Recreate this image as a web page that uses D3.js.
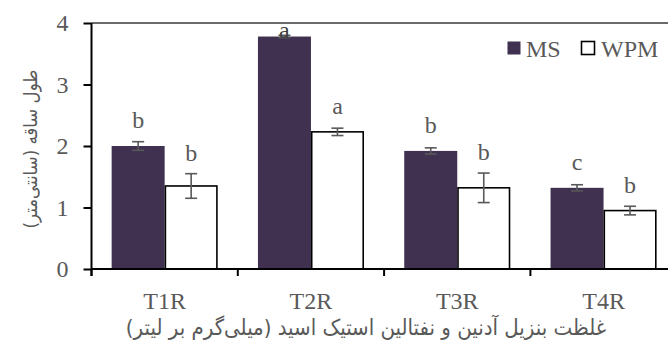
<!DOCTYPE html>
<html>
<head>
<meta charset="utf-8">
<script src="https://cdn.jsdelivr.net/npm/d3@7"></script>
<style>
  html, body { margin: 0; padding: 0; background: #fff; }
  svg { display: block; }
</style>
</head>
<body>
<svg id="chart" width="668" height="345"></svg>
<script>
const categories = ["T1R", "T2R", "T3R", "T4R"];
const series = ["MS", "WPM"];
const msValues = [2.00, 3.78, 1.92, 1.32];
const wpmValues = [1.35, 2.23, 1.32, 0.95];
const msErrors = [0.07, 0.02, 0.05, 0.05];
const wpmErrors = [0.20, 0.06, 0.24, 0.07];
const msLetters = ["b", "a", "b", "c"];
const wpmLetters = ["b", "a", "b", "b"];
const yTicks = [0, 1, 2, 3, 4];
const yTitle = "طول ساقه (سانتی‌متر)";
const xTitle = "غلظت بنزیل آدنین و نفتالین استیک اسید (میلی‌گرم بر لیتر)";

const seriesValues = { MS: msValues, WPM: wpmValues };
const seriesErrors = { MS: msErrors, WPM: wpmErrors };
const seriesLetters = { MS: msLetters, WPM: wpmLetters };
const fills = { MS: "#403151", WPM: "#ffffff" };
const strokes = { MS: "none", WPM: "#000000" };

const rows = [];
categories.forEach((c, i) => series.forEach(s => rows.push({
  cat: c, ser: s, v: seriesValues[s][i], e: seriesErrors[s][i], l: seriesLetters[s][i]
})));

const svg = d3.select("#chart");
const y = d3.scaleLinear().domain([0, 4]).range([269, 23]);
const x = d3.scaleBand().domain(categories).range([91.5, 676.7]).padding(0);
const xs = d3.scaleBand().domain(series).range([0, x.bandwidth()]).paddingInner(0).paddingOuter(0.38);

const serif = "'Liberation Serif', 'Times New Roman', serif";
const persian = "'DejaVu Sans Condensed', 'DejaVu Sans', sans-serif";
const textGray = "#595959";

// top border
svg.append("line")
  .attr("x1", x.range()[0]).attr("x2", 668)
  .attr("y1", y(4)).attr("y2", y(4))
  .attr("stroke", "#3a3a3a").attr("stroke-width", 1.6);

// bars
svg.append("g").selectAll("rect").data(rows).join("rect")
  .attr("x", d => x(d.cat) + xs(d.ser) + (d.ser === "WPM" ? 0.75 : 0))
  .attr("width", d => xs.bandwidth() - (d.ser === "WPM" ? 1.5 : 0))
  .attr("y", d => y(d.v))
  .attr("height", d => y(0) - y(d.v))
  .attr("fill", d => fills[d.ser])
  .attr("stroke", d => strokes[d.ser])
  .attr("stroke-width", 1.6);

// error bars
const eb = svg.append("g").attr("stroke", "#595959").attr("stroke-width", 1.6);
rows.forEach(d => {
  const cx = x(d.cat) + xs(d.ser) + xs.bandwidth() / 2;
  eb.append("line").attr("x1", cx).attr("x2", cx).attr("y1", y(d.v + d.e)).attr("y2", y(d.v - d.e));
  [d.v + d.e, d.v - d.e].forEach(val => {
    eb.append("line").attr("x1", cx - 6).attr("x2", cx + 6).attr("y1", y(val)).attr("y2", y(val));
  });
});

// letters
svg.append("g").selectAll("text").data(rows).join("text")
  .attr("x", d => x(d.cat) + xs(d.ser) + xs.bandwidth() / 2)
  .attr("y", d => Math.max(37.5, Math.min(y(d.v + d.e) - 13, y(d.v) - 18)))
  .attr("text-anchor", "middle")
  .attr("font-family", serif).attr("font-size", 24)
  .attr("fill", d => (d.ser === "MS" && d.v > 3.5) ? "#404040" : textGray)
  .text(d => d.l);

// y axis
const yAxis = svg.append("g").attr("transform", `translate(${x.range()[0]},0)`)
  .call(d3.axisLeft(y).tickValues(yTicks).tickSize(8).tickPadding(15).tickFormat(d3.format("d")));
yAxis.select(".domain").remove();
yAxis.selectAll(".tick line").attr("stroke", "#000").attr("stroke-width", 2);
yAxis.selectAll("text").attr("font-family", serif).attr("font-size", 24).attr("fill", textGray);
svg.append("line")
  .attr("x1", x.range()[0]).attr("x2", x.range()[0])
  .attr("y1", y(4)).attr("y2", y(0) + 7)
  .attr("stroke", "#000").attr("stroke-width", 2);

// x axis
const xAxis = svg.append("g").attr("transform", `translate(0,${y(0)})`)
  .call(d3.axisBottom(x).tickSize(0).tickPadding(23));
xAxis.select(".domain").remove();
xAxis.selectAll("text").attr("font-family", serif).attr("font-size", 24).attr("fill", textGray);
svg.append("line")
  .attr("x1", x.range()[0]).attr("x2", 668)
  .attr("y1", y(0)).attr("y2", y(0))
  .attr("stroke", "#000").attr("stroke-width", 2);
svg.append("g").selectAll("line").data(categories.concat(["__end"])).join("line")
  .attr("x1", d => d === "__end" ? x.range()[1] : x(d))
  .attr("x2", d => d === "__end" ? x.range()[1] : x(d))
  .attr("y1", y(0)).attr("y2", y(0) + 7)
  .attr("stroke", "#000").attr("stroke-width", 2);

// axis titles
svg.append("text")
  .attr("transform", `translate(37,149) rotate(-90)`)
  .attr("text-anchor", "middle")
  .attr("direction", "rtl")
  .attr("font-family", persian).attr("font-size", 18.5)
  .attr("fill", textGray)
  .text(yTitle);
svg.append("text")
  .attr("x", 366).attr("y", 335)
  .attr("text-anchor", "middle")
  .attr("direction", "rtl")
  .attr("font-family", persian).attr("font-size", 22)
  .attr("fill", textGray)
  .text(xTitle);

// legend
const lg = svg.append("g");
const legendItems = [
  { s: "MS", bx: 507.5, tx: 526 },
  { s: "WPM", bx: 581.5, tx: 601 }
];
legendItems.forEach(it => {
  lg.append("rect").attr("x", it.bx).attr("y", 41.5).attr("width", 13).attr("height", 13)
    .attr("fill", fills[it.s]).attr("stroke", it.s === "WPM" ? "#000" : "none").attr("stroke-width", 1.6);
  lg.append("text").attr("x", it.tx).attr("y", 57)
    .attr("font-family", serif).attr("font-size", 24).attr("fill", textGray).text(it.s);
});
</script>
</body>
</html>
